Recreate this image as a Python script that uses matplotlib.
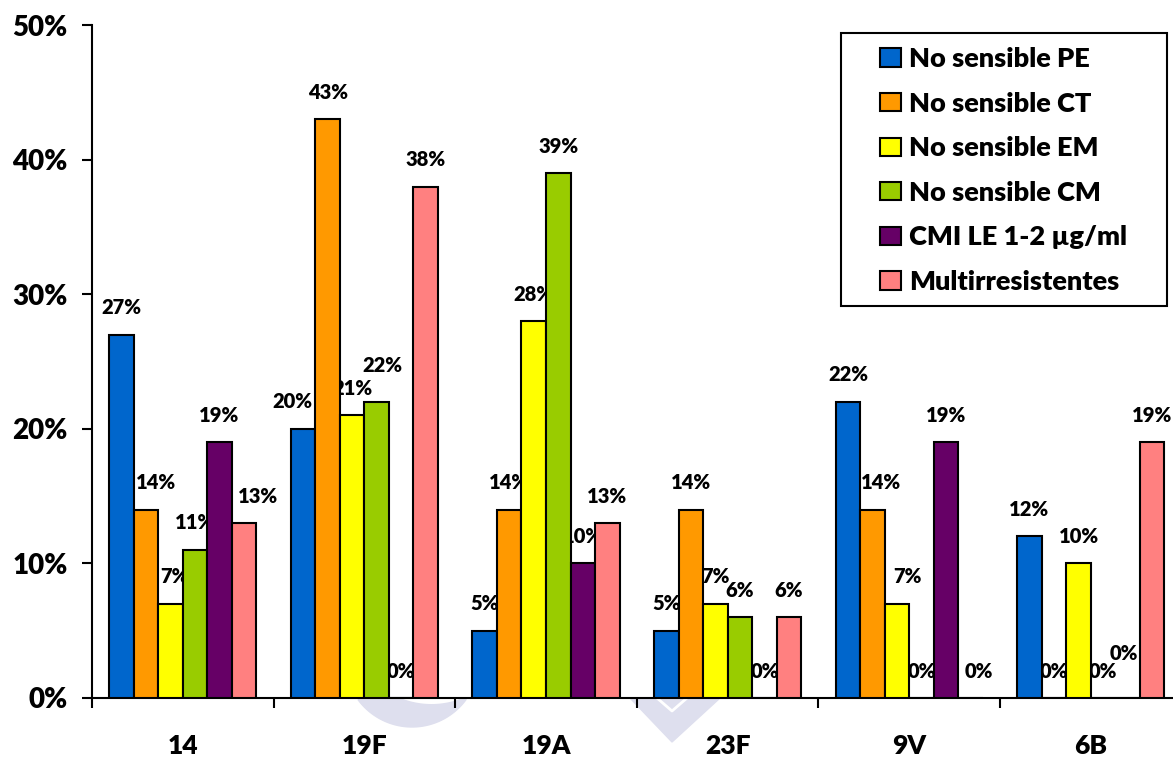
import matplotlib
matplotlib.use("Agg")
import matplotlib.pyplot as plt
import numpy as np
from matplotlib.patches import Rectangle, Polygon
from matplotlib.lines import Line2D
from matplotlib.transforms import IdentityTransform

plt.rcParams['font.family'] = ['Lato', 'DejaVu Sans']
plt.rcParams['font.weight'] = 'heavy'

serotipos = ['14', '19F', '19A', '23F', '9V', '6B']
series = ['No sensible PE', 'No sensible CT', 'No sensible EM',
          'No sensible CM', 'CMI LE 1-2 \u00b5g/ml', 'Multirresistentes']
colores = ['#0066CC', '#FF9900', '#FFFF00', '#99CC00', '#660066', '#FF8080']

pe    = [27, 20, 5, 5, 22, 12]
ct    = [14, 43, 14, 14, 14, 0]
em    = [7, 21, 28, 7, 7, 10]
cm    = [11, 22, 39, 6, 0, 0]
cmi   = [19, 0, 10, 0, 19, 0]
multi = [13, 38, 13, 6, 0, 19]
valores = [pe, ct, em, cm, cmi, multi]

# label nudges in pixels (group, serie): (dx, dy)
ajustes = {(0, 1): (10, 0), (0, 2): (4, 0), (0, 5): (14, 0),
           (1, 0): (-11, 0), (1, 3): (6, 9),
           (4, 1): (9, 0), (4, 2): (10, 0), (4, 5): (8, 0),
           (5, 4): (-4, 18)}

W, H = 1173, 760
fig = plt.figure(figsize=(W / 100, H / 100), dpi=100)
ax = fig.add_axes([92 / W, 62 / H, 1089.6 / W, 673 / H])

def px(x, y):
    return (x, H - y)

# faint logo behind the plot area
lila = '#DEDFEE'
t1 = np.linspace(np.arccos(-54 / 67), np.arccos(54 / 67), 40)
t2 = np.linspace(np.arccos(33 / 83.7), np.arccos(-33 / 83.7), 40)
media_luna = [px(412 + 67 * np.cos(np.pi - t), 660 + 67 * np.sin(t)) for t in t1]
media_luna += [px(431.5 + 83.7 * np.cos(t), 621 + 83.7 * np.sin(t)) for t in t2[::-1]]
fig.patches.append(Polygon(media_luna, transform=IdentityTransform(),
                           color=lila, zorder=-5))
fig.patches.append(Polygon([px(630, 698), px(672, 742), px(720, 698)],
                           transform=IdentityTransform(), color=lila, zorder=-5))
fig.lines.append(Line2D([657, 672, 687], [H - 698, H - 711, H - 698],
                        transform=IdentityTransform(), color='white',
                        linewidth=2, zorder=-4))

x = np.arange(len(serotipos))
ancho = 0.135
for i, (nombre, vals, c) in enumerate(zip(series, valores, colores)):
    pos = x + (i - 2.5) * ancho
    ax.bar(pos, vals, width=ancho, color=c, edgecolor='black',
           linewidth=1.5, label=nombre, zorder=3)
    for g, v in enumerate(vals):
        dx, dy = ajustes.get((g, i), (0, 0))
        ax.annotate('%d%%' % v, (pos[g], v),
                    xytext=(dx * 0.72, (27 + dy) * 0.72),
                    textcoords='offset points', ha='center', va='center',
                    fontsize=14.5, zorder=2)

ax.set_xlim(-0.5, 5.5)
ax.set_ylim(0, 50)
ax.set_yticks(np.arange(0, 51, 10))
ax.set_yticklabels(['%d%%' % t for t in range(0, 51, 10)])
ax.set_xticks(np.arange(-0.5, 6, 1))
ax.set_xticklabels([])
ax.set_xticks(x, minor=True)
ax.set_xticklabels(serotipos, minor=True)
ax.tick_params(axis='y', length=7.2, width=1.5, pad=10.5, labelsize=20)
ax.tick_params(axis='x', which='major', length=7.2, width=1.5)
ax.tick_params(axis='x', which='minor', length=0, pad=26, labelsize=19)

for s in ['top', 'right']:
    ax.spines[s].set_visible(False)
for s in ['left', 'bottom']:
    ax.spines[s].set_linewidth(1.5)

ax.legend(loc='upper left', bbox_to_anchor=(880 / W, 1 - 47 / H),
          bbox_transform=fig.transFigure, frameon=False,
          borderpad=0, borderaxespad=0, fontsize=19.5,
          handlelength=0.78, handleheight=0.66, handletextpad=0.3,
          labelspacing=0.76)
fig.patches.append(Rectangle(px(841, 306), 326, 273, transform=IdentityTransform(),
                             fill=False, edgecolor='black', linewidth=1.5, zorder=5))

fig.savefig('out.png', dpi=100)
